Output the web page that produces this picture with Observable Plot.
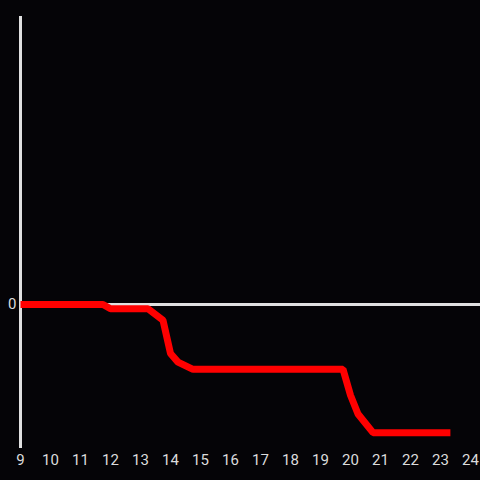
<!DOCTYPE html>
<html>
<head>
<meta charset="utf-8">
<script src="https://cdn.jsdelivr.net/npm/d3@7"></script>
<script src="https://cdn.jsdelivr.net/npm/@observablehq/plot@0.6"></script>
<style>
  html, body { margin: 0; padding: 0; background: #050407; }
</style>
</head>
<body>
<div id="chart"></div>
<script>
const hours = [9, 11.75, 12, 13.25, 13.75, 14, 14.25, 14.75, 19.75, 20, 20.25, 20.75, 23.33];
const values = [0, 0, -0.03, -0.03, -0.11, -0.34, -0.40, -0.45, -0.45, -0.63, -0.76, -0.89, -0.89];
const xTicks = [9, 10, 11, 12, 13, 14, 15, 16, 17, 18, 19, 20, 21, 22, 23, 24];
const yTicks = [0];

const data = hours.map((h, i) => ({hour: h, value: values[i]}));

const chart = Plot.plot({
  width: 480,
  height: 480,
  marginTop: 16,
  marginBottom: 32,
  marginLeft: 20,
  marginRight: 0,
  style: {background: "#050407", color: "#dcdcdc", fontSize: "15px", fontFamily: "Roboto, sans-serif"},
  x: {domain: [9, 24.333], ticks: xTicks, tickFormat: d => String(d), label: null},
  y: {domain: [-1, 2], ticks: yTicks, tickFormat: d => String(d), label: null},
  marks: [
    Plot.axisX({ticks: xTicks, tickSize: 0, tickPadding: 6, tickFormat: d => String(d), label: null, fill: "#dcdcdc", fontSize: 15}),
    Plot.axisY({ticks: yTicks, tickSize: 0, tickPadding: 4, tickFormat: d => String(d), label: null, fill: "#dcdcdc", fontSize: 15}),
    Plot.ruleY([0], {stroke: "#e0e0e0", strokeWidth: 3}),
    Plot.ruleX([9], {stroke: "#e0e0e0", strokeWidth: 3}),
    Plot.line(data, {x: "hour", y: "value", stroke: "#ff0000", strokeWidth: 7, strokeLinejoin: "miter", strokeLinecap: "butt"})
  ]
});
document.getElementById("chart").appendChild(chart);
</script>
</body>
</html>
